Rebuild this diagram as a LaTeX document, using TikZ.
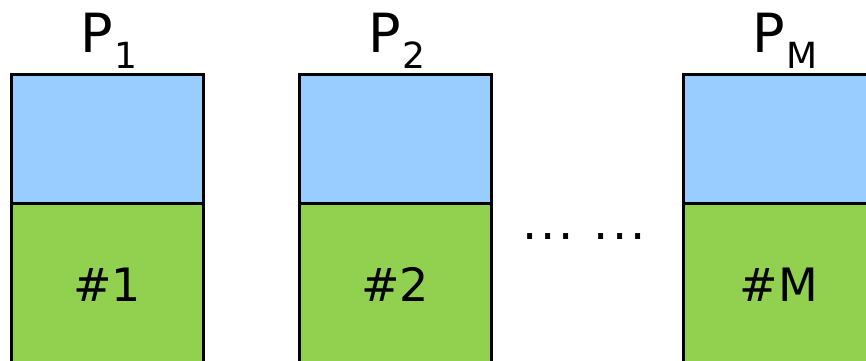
\documentclass[tikz,border=0pt]{standalone}
\usepackage{fontspec}
\setmainfont{DejaVu Sans}
\definecolor{topblue}{HTML}{99CCFF}
\definecolor{botgreen}{HTML}{92D050}
\newcommand{\plabel}[1]{{\fontsize{54}{54}\selectfont P\kern2pt\raisebox{-16pt}{\fontsize{36}{36}\selectfont #1}}}
\newcommand{\tridots}{.\kern3pt.\kern3pt.}
\begin{document}
\begin{tikzpicture}[x=1pt,y=1pt,
  topbox/.style={draw=black,line width=3pt,fill=topblue},
  botbox/.style={draw=black,line width=3pt,fill=botgreen},
  numtxt/.style={font=\fontsize{46}{46}\selectfont,anchor=base},
  ptxt/.style={anchor=base,inner sep=0pt}]
\useasboundingbox (0,0) rectangle (866,360);
\clip (0,0) rectangle (866,360);
% column 1
\filldraw[botbox] (11,-10) rectangle (203,157);
\filldraw[topbox] (11,157) rectangle (203,286);
\node[numtxt] (t1) at (107,59) {\#1};
\node[ptxt] (p1) at (109,308) {\plabel{1}};
% column 2
\filldraw[botbox] (299,-10) rectangle (491,157);
\filldraw[topbox] (299,157) rectangle (491,286);
\node[numtxt] (t2) at (395,59) {\#2};
\node[ptxt] (p2) at (397,308) {\plabel{2}};
% column M
\filldraw[botbox] (683,-10) rectangle (880,157);
\filldraw[topbox] (683,157) rectangle (880,286);
\node[numtxt] (tm) at (779,59) {\#M};
\node[ptxt] (pm) at (785,308) {\plabel{M}};
% dots
\node[font=\fontsize{48}{48}\selectfont,anchor=base] (dots) at (584,121) {\tridots\kern20pt\tridots};
\end{tikzpicture}
\end{document}
